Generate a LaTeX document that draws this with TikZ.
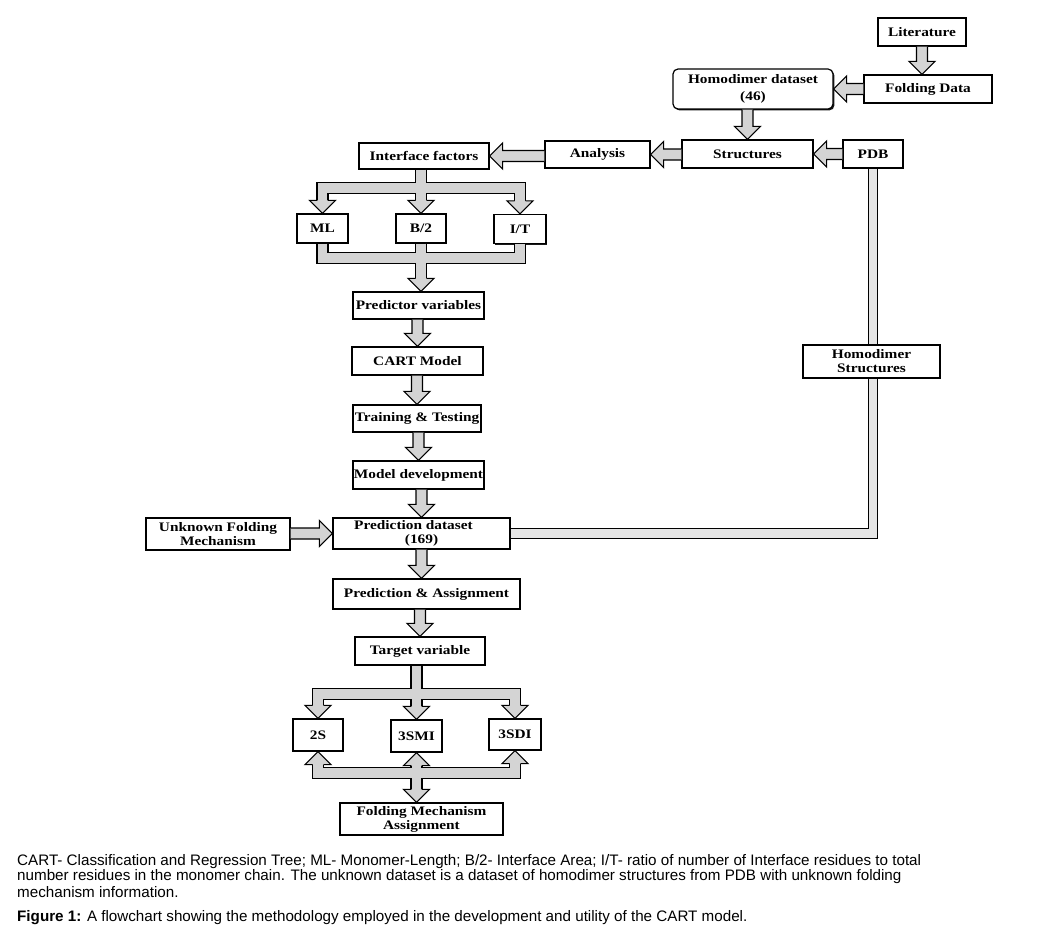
\documentclass[tikz,border=0pt]{standalone}
\usepackage{fontspec}
\setmainfont{Liberation Serif}
\newfontfamily\boxfont[FakeStretch=1.18]{Liberation Serif}
\newfontfamily\capfont{Liberation Sans}
\usetikzlibrary{shadows,calc}
\pgfdeclarelayer{bg}
\pgfsetlayers{bg,main}
\definecolor{arrowgray}{gray}{0.83}
\definecolor{changray}{gray}{0.9}
\def\hl{13pt}
\def\aw{5.5pt}
\def\hw{13pt}
\tikzset{
  arrowpoly/.style={line width=1.1pt, fill=arrowgray, draw=black, line join=miter},
  bhead/.pic={\filldraw[arrowpoly]
     (-13pt,5.5pt) -- (-13pt,13pt) -- (0pt,0pt) -- (-13pt,-13pt) -- (-13pt,-5.5pt);},
  shaft/.style={line width=9.9pt, draw=arrowgray, preaction={draw=black, line width=12.1pt}},
  channel/.style={line width=8.2pt, draw=changray, preaction={draw=black, line width=10.2pt}},
  box/.style={draw, line width=1.2pt, fill=white, inner sep=1pt, align=center,
     font=\boxfont\bfseries\fontsize{13}{14}\selectfont,
     drop shadow={shadow xshift=1.4pt, shadow yshift=-1.4pt, opacity=0.9, fill=black}},
  capt/.style={anchor=west, inner sep=0pt, font=\capfont\fontsize{15.2}{16}\selectfont},
}
\newcommand\vdown[2]{\filldraw[arrowpoly] let \p1=(#1), \p2=(#2) in
  (\x2-\aw,\y1) -- (\x2-\aw,\y2+\hl) -- (\x2-\hw,\y2+\hl) -- (\x2,\y2) -- (\x2+\hw,\y2+\hl) -- (\x2+\aw,\y2+\hl) -- (\x2+\aw,\y1);}
\newcommand\hleft[2]{\filldraw[arrowpoly] let \p1=(#1), \p2=(#2) in
  (\x1,\y2+\aw) -- (\x2+\hl,\y2+\aw) -- (\x2+\hl,\y2+\hw) -- (\x2,\y2) -- (\x2+\hl,\y2-\hw) -- (\x2+\hl,\y2-\aw) -- (\x1,\y2-\aw);}
\newcommand\hright[2]{\filldraw[arrowpoly] let \p1=(#1), \p2=(#2) in
  (\x1,\y2+\aw) -- (\x2-\hl,\y2+\aw) -- (\x2-\hl,\y2+\hw) -- (\x2,\y2) -- (\x2-\hl,\y2-\hw) -- (\x2-\hl,\y2-\aw) -- (\x1,\y2-\aw);}
\begin{document}
\begin{tikzpicture}[x=1pt,y=-1pt]
\begin{pgfonlayer}{bg}
\fill[white] (0,0) rectangle (1038,939);
\end{pgfonlayer}
\useasboundingbox (0,0) rectangle (1038,939);
% nodes
\node[box, minimum width=88pt, minimum height=28pt] (lit) at (922,32) {Literature};
\node[box, minimum width=128pt, minimum height=28pt] (fold) at (928,89) {Folding Data};
\node[box, rounded corners=5pt, minimum width=160pt, minimum height=40pt] (homo) at (753,89) {Homodimer dataset\\[3pt](46)};
\node[box, minimum width=131pt, minimum height=28pt] (struct) at (747.5,154) {Structures};
\node[box, minimum width=60pt, minimum height=28pt] (pdb) at (873,154) {PDB};
\node[box, minimum width=105pt, minimum height=27pt] (anal) at (597.5,154.5) {Analysis};
\node[box, minimum width=130pt, minimum height=26pt] (if) at (424,156) {Interface factors};
\node[box, minimum width=51pt, minimum height=29pt] (ml) at (322.5,228.5) {ML};
\node[box, minimum width=50pt, minimum height=29pt] (b2) at (421,228.5) {B/2};
\node[box, minimum width=52pt, minimum height=29pt] (it) at (520,229) {I/T};
\node[box, minimum width=131pt, minimum height=27pt] (pv) at (418.5,305.5) {Predictor variables};
\node[box, minimum width=131pt, minimum height=28pt] (cart) at (417.5,361) {CART Model};
\node[box, minimum width=128pt, minimum height=27pt] (tt) at (417,418.5) {Training \& Testing};
\node[box, minimum width=131pt, minimum height=28pt] (md) at (418.5,475) {Model development};
\node[box, minimum width=144pt, minimum height=32pt] (ufm) at (218,534) {Unknown Folding\\Mechanism};
\node[box, minimum width=177pt, minimum height=31pt] (pd) at (421.5,533.5) {Prediction dataset\hspace*{16pt}\\(169)};
\node[box, minimum width=187pt, minimum height=30pt] (pa) at (426.5,594) {Prediction \& Assignment};
\node[box, minimum width=130pt, minimum height=28pt] (tv) at (420,651) {Target variable};
\node[box, minimum width=50pt, minimum height=32pt] (s2) at (318,735) {2S};
\node[box, minimum width=51pt, minimum height=32pt] (smi) at (416.5,736) {3SMI};
\node[box, minimum width=52pt, minimum height=31pt] (sdi) at (515,734.5) {3SDI};
\node[box, minimum width=163pt, minimum height=32pt] (fma) at (421.5,819) {Folding Mechanism\\Assignment};
\node[box, minimum width=137pt, minimum height=33pt] (hs) at (871.5,361.5) {Homodimer\\Structures};
% channel from PDB
\begin{pgfonlayer}{bg}
\draw[channel] (pdb.south) -- (pdb.south |- pd.east) -- (pd.east);
\end{pgfonlayer}
% simple arrows
\vdown{lit.south}{lit.south |- fold.north}
\hleft{fold.west}{homo.east}
\vdown{homo.south}{struct.north}
\hleft{pdb.west}{struct.east}
\hleft{struct.west}{anal.east}
\hleft{anal.west}{if.east}
\vdown{pv.south}{cart.north}
\vdown{cart.south}{tt.north}
\vdown{tt.south}{md.north}
\vdown{md.south}{pd.north}
\hright{ufm.east}{pd.west}
\vdown{pd.south}{pd.south |- pa.north}
\vdown{pa.south}{tv.north}
% top fork
\coordinate (bar1) at (0,188);
\draw[shaft] (if.south -| b2.north) -- ([yshift=\hl-1pt]b2.north)
  ([yshift=\hl-1pt]ml.north) -- (ml.north |- bar1) -- (it.north |- bar1) -- ([yshift=\hl-1pt]it.north);
\pic[rotate=-90] at (ml.north) {bhead};
\pic[rotate=-90] at (b2.north) {bhead};
\pic[rotate=-90] at (it.north) {bhead};
% merge to predictor variables
\coordinate (bar2) at (0,258);
\coordinate (pvt) at (b2.south |- pv.north);
\draw[shaft] (ml.south) -- (ml.south |- bar2) -- (it.south |- bar2) -- (it.south)
  (b2.south) -- ([yshift=\hl-1pt]pvt);
\pic[rotate=-90] at (pvt) {bhead};
% bottom fork
\coordinate (bar3) at (0,694);
\coordinate (tvs) at (smi.north |- tv.south);
\draw[shaft] (tvs) -- ([yshift=\hl-1pt]smi.north)
  ([yshift=\hl-1pt]s2.north) -- (s2.north |- bar3) -- (sdi.north |- bar3) -- ([yshift=\hl-1pt]sdi.north);
\pic[rotate=-90] at (s2.north) {bhead};
\pic[rotate=-90] at (smi.north) {bhead};
\pic[rotate=-90] at (sdi.north) {bhead};
% up merge
\coordinate (bar4) at (0,773);
\coordinate (fmat) at (smi.south |- fma.north);
\draw[shaft] ([yshift=-\hl+1pt]s2.south) -- (s2.south |- bar4) -- (sdi.south |- bar4) -- ([yshift=-\hl+1pt]sdi.south)
  ([yshift=-\hl+1pt]smi.south) -- ([yshift=\hl-1pt]fmat);
\pic[rotate=90] at (s2.south) {bhead};
\pic[rotate=90] at (smi.south) {bhead};
\pic[rotate=90] at (sdi.south) {bhead};
\pic[rotate=-90] at (fmat) {bhead};
% caption
\node[capt] (c1) at (17,862) {CART- Classification and Regression Tree; ML- Monomer-Length; B/2- Interface Area; I/T- ratio of number of Interface residues to total};
\node[capt] (c2) at (17,877) {number residues in the monomer chain. The unknown dataset is a dataset of homodimer structures from PDB with unknown folding};
\node[capt] (c3) at (17,892) {mechanism information.};
\node[capt] (c4) at (17,918) {\textbf{Figure 1:} A flowchart showing the methodology employed in the development and utility of the CART model.};
\end{tikzpicture}
\end{document}
